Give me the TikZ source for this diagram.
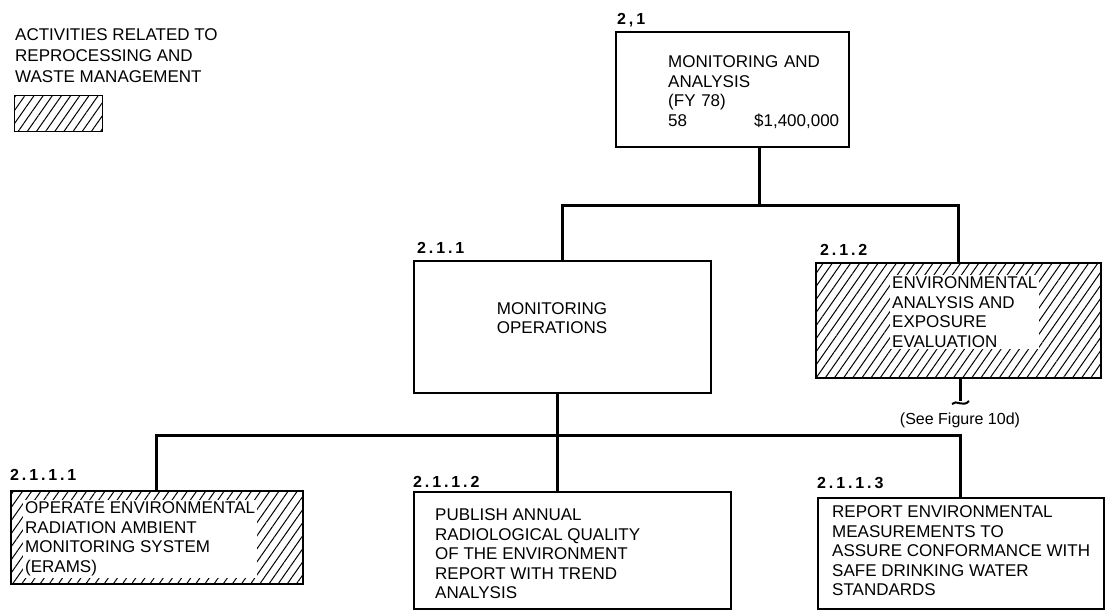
\documentclass[tikz,border=0pt]{standalone}
\usepackage{fontspec}
\setmainfont{Liberation Sans}
\newfontfamily\numfont[LetterSpace=18]{Liberation Sans}
\usetikzlibrary{positioning,calc,patterns.meta}

\begin{document}
\begin{tikzpicture}[x=1pt,y=-1pt,
  box/.style={draw,line width=1.7pt,inner sep=0pt,anchor=north west},
  hatched/.style={box,pattern={Lines[angle=55,distance=7.5pt,line width=1pt]}},
  txt/.style={font=\fontsize{17}{19.5}\selectfont,align=left,inner sep=2pt,anchor=north west},
  num/.style={font=\fontsize{16}{16}\numfont\bfseries,inner sep=0pt,anchor=base west},
  link/.style={line width=3pt}]
  \useasboundingbox (0,0) rectangle (1108,615);

  % key
  \node[txt,font=\fontsize{17}{21}\selectfont] (keytext) at (13,26.5) {ACTIVITIES RELATED TO\\REPROCESSING AND\\WASTE MANAGEMENT};
  \node[hatched,minimum width=88pt,minimum height=36pt] (key) at (14,95) {};

  % boxes
  \node[box,minimum width=233pt,minimum height=115pt] (ma) at (615,31) {};
  \node[box,minimum width=297pt,minimum height=132pt] (mo) at (413,260) {};
  \node[hatched,minimum width=285pt,minimum height=115pt] (ea) at (815,262) {};
  \node[hatched,minimum width=292pt,minimum height=93pt] (er) at (10,490) {};
  \node[box,minimum width=317pt,minimum height=117pt] (pu) at (413,491) {};
  \node[box,minimum width=286pt,minimum height=111pt] (rp) at (817,497) {};

  % numbers
  \node[num] (nma) at ([shift={(2,-6)}]ma.north west) {2,1};
  \node[num] (nmo) at ([shift={(4,-7)}]mo.north west) {2.1.1};
  \node[num] (nea) at ([shift={(5,-7)}]ea.north west) {2.1.2};
  \node[num] (ner) at ([shift={(0,-10)}]er.north west) {2.1.1.1};
  \node[num] (npu) at ([shift={(0,-4)}]pu.north west) {2.1.1.2};
  \node[num] (nrp) at ([shift={(0,-9)}]rp.north west) {2.1.1.3};

  % texts
  \node[txt,text width=171pt] (matext) at (666,53.5) {MONITORING AND\\ANALYSIS\\(FY 78)\\58\hfill\$1,400,000};
  \node[txt,align=center,anchor=center] (motext) at (552,318) {MONITORING\\OPERATIONS};
  \node[txt,fill=white] (eatext) at (890,274.5) {ENVIRONMENTAL\\ANALYSIS AND\\EXPOSURE\\EVALUATION};
  \node[txt,fill=white] (ertext) at (23,499.5) {OPERATE ENVIRONMENTAL\\RADIATION AMBIENT\\MONITORING SYSTEM\\(ERAMS)};
  \node[txt] (putext) at (433,506.5) {PUBLISH ANNUAL\\RADIOLOGICAL QUALITY\\OF THE ENVIRONMENT\\REPORT WITH TREND\\ANALYSIS};
  \node[txt] (rptext) at (830,503.5) {REPORT ENVIRONMENTAL\\MEASUREMENTS TO\\ASSURE CONFORMANCE WITH\\SAFE DRINKING WATER\\STANDARDS};

  % links
  \coordinate (j1) at (759,205);
  \coordinate (j2) at (557,435);
  \coordinate (tail) at (960,401);
  \draw[link] (ma.south -| j1) -- (j1);
  \draw[link] (mo.north) |- (j1) -| (ea.north);
  \draw[link] (mo.south -| j2) -- (pu.north -| j2);
  \draw[link] (er.north) |- (j2) -| (rp.north);
  \draw[link] (ea.south -| tail) -- (tail);
  \draw[line width=2pt] (952,404) .. controls (956,399) and (963,408) .. (969,401);
  \node[font=\fontsize{16}{16}\selectfont,inner sep=0pt] (see) at (960,420) {(See Figure 10d)};
\end{tikzpicture}
\end{document}
